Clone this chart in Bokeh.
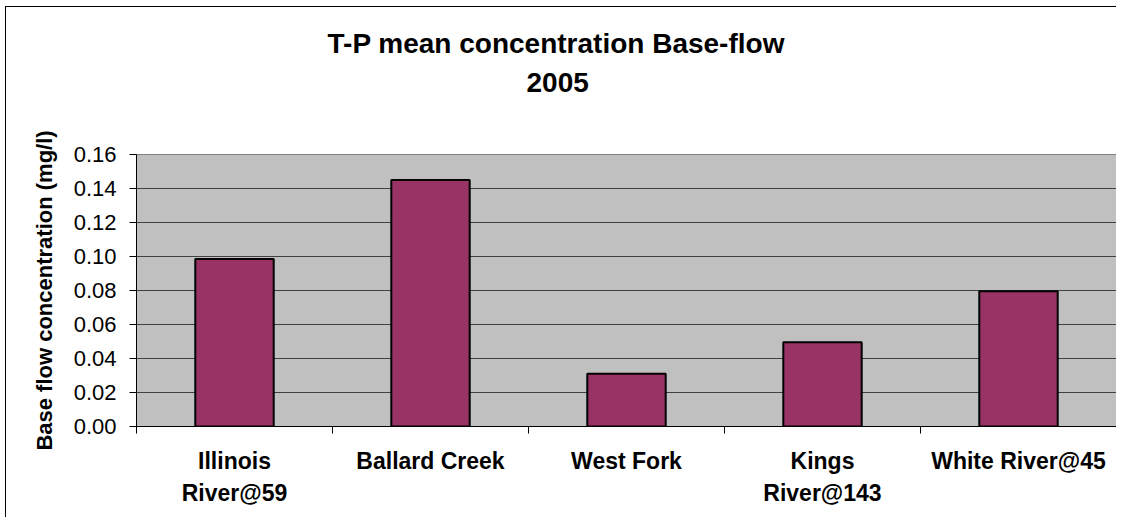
from bokeh.plotting import figure
from bokeh.models import Range1d, FixedTicker, PrintfTickFormatter, Title
from bokeh.embed import file_html
from bokeh.resources import INLINE

# ---- data ----
sites = ["Illinois\nRiver@59", "Ballard Creek", "West Fork", "Kings\nRiver@143", "White River@45"]
tp_mean = [0.0985, 0.145, 0.031, 0.0495, 0.0795]
y_ticks = [0.0, 0.02, 0.04, 0.06, 0.08, 0.10, 0.12, 0.14, 0.16]
title_main = "T-P mean concentration Base-flow"
title_year = "2005"
y_label = "Base flow concentration (mg/l)"

positions = [i + 0.5 for i in range(len(sites))]
boundaries = [float(i) for i in range(len(sites) + 1)]

p = figure(width=1111, height=511, output_backend="svg", toolbar_location=None,
           x_range=Range1d(0, len(sites)), y_range=Range1d(0, 0.16),
           min_border_left=130, min_border_right=1, min_border_top=147, min_border_bottom=92)
p.styles = {"margin-left": "5px", "margin-top": "6px",
            "border-left": "1px solid #000000", "border-top": "1px solid #000000"}

p.title = None
TITLE_STYLE = dict(align="left", text_font="Liberation Sans", text_font_style="bold",
                   text_font_size="28px", text_color="#000000")
p.add_layout(Title(text=title_year, offset=390, standoff=126, **TITLE_STYLE), "above")
p.add_layout(Title(text=title_main, offset=191, standoff=-103, **TITLE_STYLE), "above")

p.background_fill_color = "#C0C0C0"
p.border_fill_color = "#FFFFFF"
p.outline_line_color = "#808080"
p.outline_line_width = 1

p.vbar(x=positions, top=tp_mean, width=0.4, bottom=0,
       fill_color="#993366", line_color="#000000", line_width=2)

# y axis
p.yaxis.ticker = FixedTicker(ticks=y_ticks)
p.yaxis.formatter = PrintfTickFormatter(format="%.2f")
p.yaxis.axis_line_color = "#000000"
p.yaxis.major_tick_out = 7
p.yaxis.major_tick_in = 0
p.yaxis.minor_tick_line_color = None
p.yaxis.major_label_text_font = "Liberation Sans"
p.yaxis.major_label_text_font_size = "22px"
p.yaxis.major_label_text_color = "#000000"
p.yaxis.major_label_standoff = 13
p.yaxis.axis_label = y_label
p.yaxis.axis_label_text_font = "Liberation Sans"
p.yaxis.axis_label_text_font_style = "bold"
p.yaxis.axis_label_text_font_size = "22px"
p.yaxis.axis_label_text_color = "#000000"
p.yaxis.axis_label_standoff = 14

# x axis
p.xaxis.ticker = FixedTicker(ticks=positions, minor_ticks=boundaries)
p.xaxis.major_label_overrides = {pos: s for pos, s in zip(positions, sites)}
p.xaxis.axis_line_color = "#000000"
p.xaxis.major_tick_line_color = None
p.xaxis.major_tick_out = 0
p.xaxis.major_tick_in = 0
p.xaxis.minor_tick_line_color = "#000000"
p.xaxis.minor_tick_out = 7
p.xaxis.minor_tick_in = 0
p.xaxis.major_label_text_font = "Liberation Sans"
p.xaxis.major_label_text_font_style = "bold"
p.xaxis.major_label_text_font_size = "23px"
p.xaxis.major_label_text_line_height = 1.25
p.xaxis.major_label_text_color = "#000000"
p.xaxis.major_label_standoff = 14

p.xgrid.grid_line_color = None
p.ygrid.grid_line_color = "#404040"
p.ygrid.grid_line_width = 1

open("out.html", "w").write(file_html(p, INLINE))
